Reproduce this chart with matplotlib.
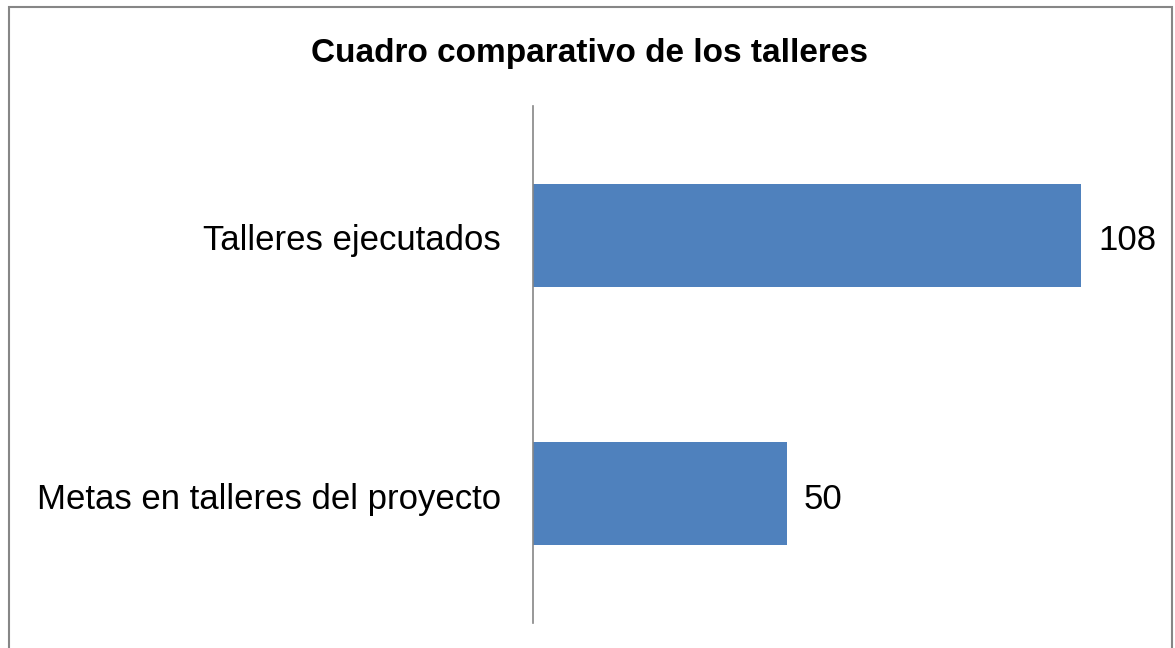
import matplotlib.pyplot as plt
import matplotlib.transforms as mtransforms
from matplotlib.patches import Rectangle

plt.rcParams['font.family'] = ['Liberation Sans', 'DejaVu Sans']

categorias = ['Metas en talleres del proyecto', 'Talleres ejecutados']
valores = [50, 108]

fig = plt.figure(figsize=(11.75, 6.48), dpi=100)
ax = fig.add_axes([0.4536, 0.0386, 0.518, 0.7978])

barras = ax.barh(range(len(categorias)), valores, height=0.4, color='#4f81bd')
ax.set_xlim(0, 120)
ax.set_ylim(-0.5, 1.5)
ax.set_yticks(range(len(categorias)))
ax.set_yticklabels(categorias, fontsize=25, va='center')
ax.tick_params(axis='y', length=0, pad=23)
ax.set_xticks([])
for s in ['top', 'right', 'bottom']:
    ax.spines[s].set_visible(False)
ax.spines['left'].set_color('#868686')
ax.spines['left'].set_linewidth(1.2)

# bajar un poco las etiquetas
bajar = mtransforms.ScaledTranslation(0, -4 / 72, fig.dpi_scale_trans)
for lbl in ax.get_yticklabels():
    lbl.set_transform(lbl.get_transform() + bajar)

for b, v in zip(barras, valores):
    ax.text(b.get_width() + 3.4, b.get_y() + b.get_height() / 2, str(v),
            va='center', ha='left', fontsize=25,
            transform=ax.transData + bajar)

fig.text(0.502, 0.918, 'Cuadro comparativo de los talleres', ha='center', va='center',
         fontsize=24, fontweight='bold')

# borde del grafico
fig.patches.append(Rectangle((0.0077, -0.1), 0.9894, 1.0892, transform=fig.transFigure,
                             fill=False, edgecolor='#868686', linewidth=1.5, clip_on=False))

fig.savefig('out.png', dpi=100)
